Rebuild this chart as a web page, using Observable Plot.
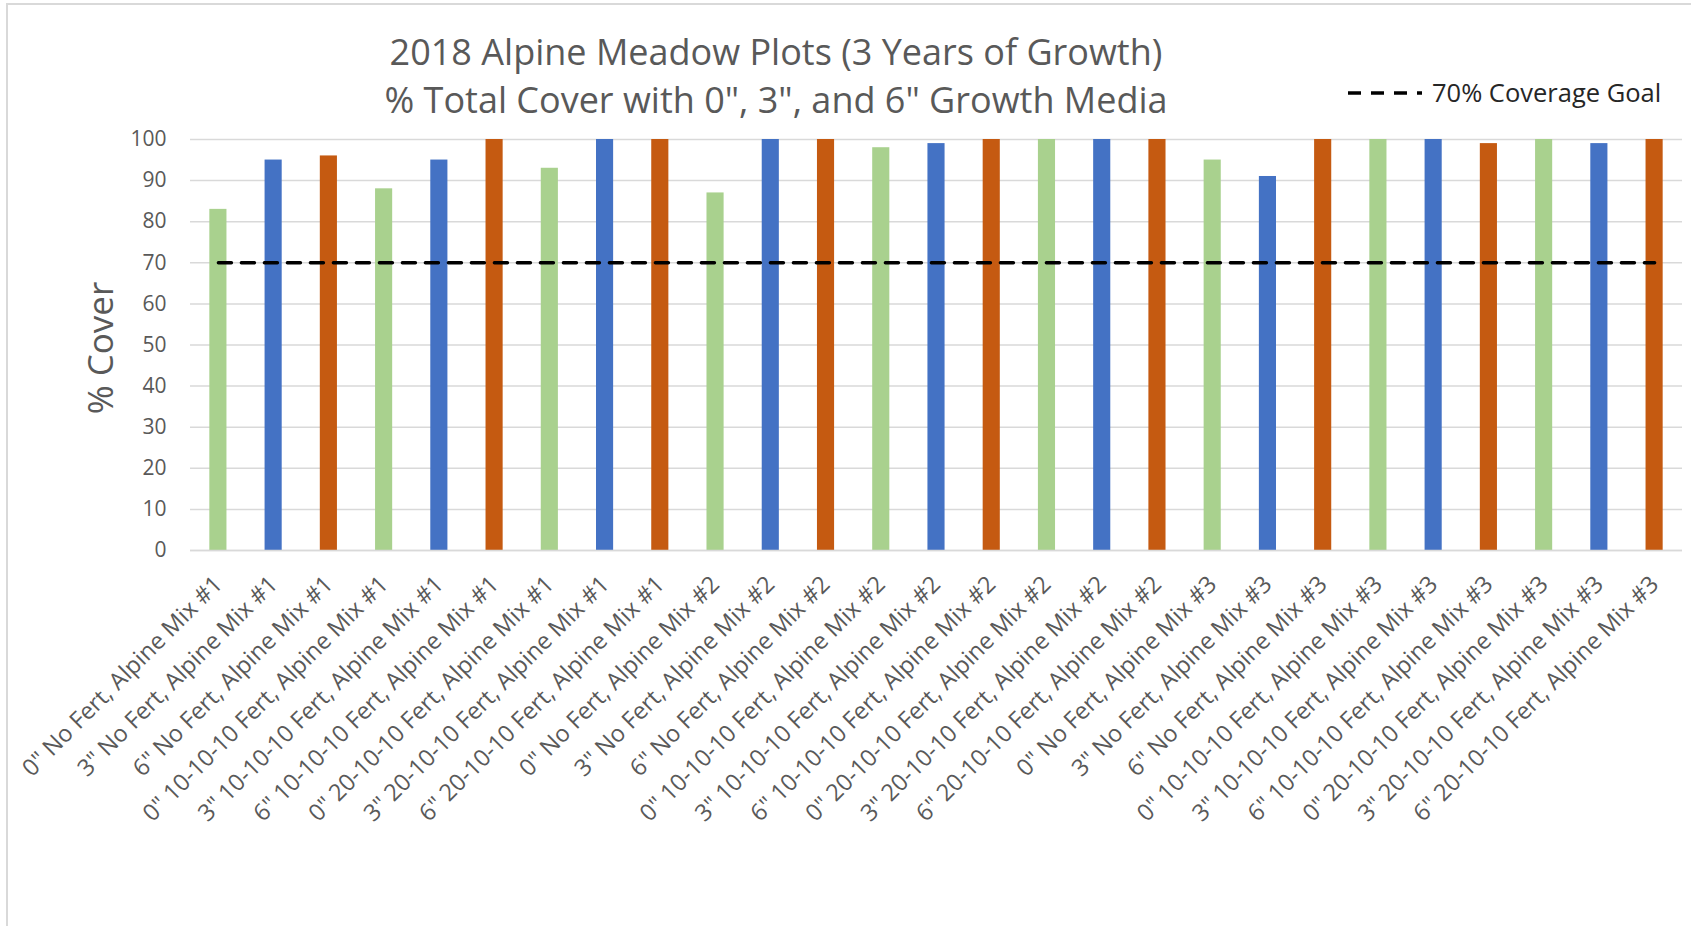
<!DOCTYPE html>
<html>
<head>
<meta charset="utf-8">
<script src="https://cdn.jsdelivr.net/npm/d3@7"></script>
<script src="https://cdn.jsdelivr.net/npm/@observablehq/plot@0.6"></script>
<style>
  html, body { margin: 0; padding: 0; background: #fff; }
  #wrap { position: relative; width: 1691px; height: 926px; overflow: hidden; font-family: "Open Sans", sans-serif; }
  #border { position: absolute; left: 6px; top: 3px; width: 1700px; height: 930px; border-left: 2px solid #d9d9d9; border-top: 2px solid #d9d9d9; box-sizing: border-box; }
  #header { position: relative; height: 120px; }
  .title { position: absolute; left: 776px; transform: translateX(-50%); white-space: nowrap; color: #595959; font-size: 36px; line-height: 1; }
  #legend { position: absolute; left: 1346px; top: 80px; display: flex; align-items: center; color: #262626; font-size: 25.5px; line-height: 1; white-space: nowrap; }
  #plot { position: relative; }
</style>
</head>
<body>
<div id="wrap">
  <div id="border"></div>
  <div id="header">
    <div class="title" style="top:34px">2018 Alpine Meadow Plots (3 Years of Growth)</div>
    <div class="title" style="top:82px">% Total Cover with 0", 3", and 6" Growth Media</div>
    <div id="legend"><svg width="78" height="10"><line x1="2" y1="5" x2="76" y2="5" stroke="#000" stroke-width="3.5" stroke-dasharray="13,10"/></svg><span style="margin-left:8px">70% Coverage Goal</span></div>
  </div>
  <div id="plot"></div>
</div>
<script>
const depths = ['0"', '3"', '6"'];
const ferts = ["No Fert", "10-10-10 Fert", "20-10-10 Fert"];
const mixes = ["Alpine Mix #1", "Alpine Mix #2", "Alpine Mix #3"];
const categories = [];
for (const m of mixes) for (const f of ferts) for (const d of depths) categories.push(`${d} ${f}, ${m}`);
const cover = [83, 95, 96, 88, 95, 100, 93, 100, 100,
               87, 100, 100, 98, 99, 100, 100, 100, 100,
               95, 91, 100, 100, 100, 99, 100, 99, 100];
const goal = 70;
const depthColors = ["#A9D18E", "#4472C4", "#C55A11"];
const yTicks = [0, 10, 20, 30, 40, 50, 60, 70, 80, 90, 100];

const data = categories.map((c, i) => ({cat: c, depth: depths[i % 3], value: cover[i]}));
const goalLine = categories.map(c => ({cat: c, value: goal}));

const chart = Plot.plot({
  width: 1691,
  height: 806,
  marginTop: 19,
  marginBottom: 376,
  marginLeft: 190,
  marginRight: 9,
  style: {fontFamily: "Open Sans, sans-serif", background: "transparent"},
  x: {domain: categories, paddingInner: 0.69, paddingOuter: 0.35, round: false, label: null},
  y: {domain: [0, 100], label: null},
  color: {domain: depths, range: depthColors},
  marks: [
    Plot.gridY(yTicks, {stroke: "#d9d9d9", strokeOpacity: 1, strokeWidth: 1.5}),
    Plot.barY(data, {x: "cat", y: "value", fill: "depth"}),
    Plot.ruleY([0], {stroke: "#d9d9d9", strokeWidth: 1.5}),
    Plot.line(goalLine, {x: "cat", y: "value", stroke: "#000", strokeWidth: 3.5, strokeDasharray: "13,10"}),
    Plot.axisY({ticks: yTicks, tickSize: 0, tickPadding: 24, fontSize: 21, fill: "#595959", label: null}),
    Plot.axisX({tickSize: 0, tickRotate: -45, tickPadding: 30, fontSize: 23.5, fill: "#595959", label: null, dx: 0})
  ]
});
document.getElementById("plot").appendChild(chart);

const svg = d3.select(chart);
svg.append("text")
  .attr("transform", "translate(99,228) rotate(-90)")
  .attr("text-anchor", "middle")
  .attr("dominant-baseline", "central")
  .attr("fill", "#595959")
  .attr("font-size", 35)
  .attr("font-family", "Open Sans, sans-serif")
  .text("% Cover");
</script>
</body>
</html>
